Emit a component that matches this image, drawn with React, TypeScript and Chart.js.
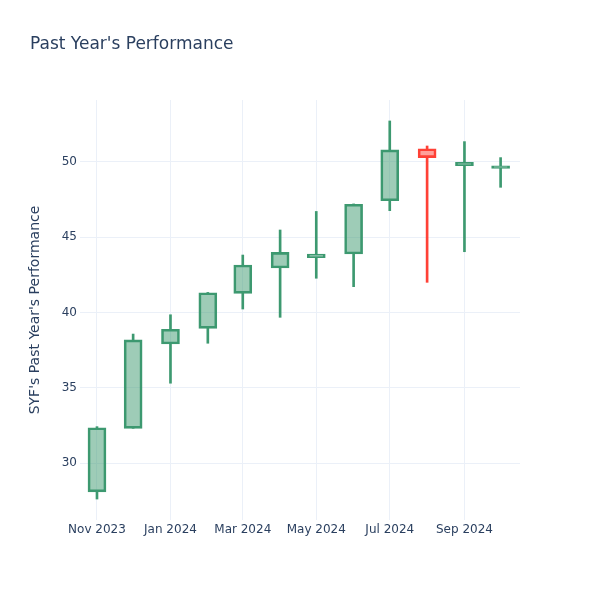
import React, { useEffect, useRef } from "react";
import { Chart, registerables } from "chart.js";

Chart.register(...registerables);

const chartTitle = "Past Year's Performance";
const yAxisTitle = "SYF's Past Year's Performance";

const months = [
  "2023-11-01", "2023-12-01", "2024-01-01", "2024-02-01", "2024-03-01", "2024-04-01",
  "2024-05-01", "2024-06-01", "2024-07-01", "2024-08-01", "2024-09-01", "2024-10-01",
];
const opens = [28.10, 32.32, 37.91, 38.95, 41.27, 42.95, 43.63, 43.88, 47.41, 50.86, 49.73, 49.56];
const highs = [32.43, 38.57, 39.85, 41.33, 43.81, 45.47, 46.70, 47.20, 52.70, 51.04, 51.33, 50.27];
const lows = [27.63, 32.32, 35.31, 37.96, 40.23, 39.68, 42.27, 41.71, 46.75, 42.00, 44.03, 48.30];
const closes = [32.36, 38.18, 38.89, 41.31, 43.15, 43.99, 43.88, 47.18, 50.78, 50.27, 49.96, 49.73];

const xTickDates = ["2023-11-01", "2024-01-01", "2024-03-01", "2024-05-01", "2024-07-01", "2024-09-01"];
const xTickLabels = ["Nov 2023", "Jan 2024", "Mar 2024", "May 2024", "Jul 2024", "Sep 2024"];
const yTicks = [30, 35, 40, 45, 50];

const X_MIN_DAYS = -14.1;
const X_MAX_DAYS = 351.1;
const Y_MIN = 26.24;
const Y_MAX = 54.09;

const INC = "#3D9970";
const INC_FILL = "rgba(61,153,112,0.5)";
const DEC = "#FF4136";
const DEC_FILL = "rgba(255,65,54,0.5)";
const TEXT = "#2a3f5f";
const GRID = "#EBF0F8";
const FONT = "'DejaVu Sans', Verdana, Arial, sans-serif";

const DAY = 86400000;
const base = Date.parse(months[0]);
const toDays = (d: string) => (Date.parse(d) - base) / DAY;

export default function App() {
  const ref = useRef<HTMLCanvasElement | null>(null);

  useEffect(() => {
    if (!ref.current) return;
    const xs = months.map(toDays);
    const up = opens.map((o, i) => closes[i] >= o);
    const lineCol = up.map((u) => (u ? INC : DEC));
    const fillCol = up.map((u) => (u ? INC_FILL : DEC_FILL));
    const tickDays = xTickDates.map(toDays);

    const lowerWick = xs.map((x, i) => ({ x, y: [lows[i], Math.min(opens[i], closes[i])] }));
    const upperWick = xs.map((x, i) => ({ x, y: [Math.max(opens[i], closes[i]), highs[i]] }));
    const bodies = xs.map((x, i) => ({ x, y: [opens[i], closes[i]] }));

    const chart = new Chart(ref.current, {
      type: "bar",
      data: {
        datasets: [
          {
            label: "lower",
            data: lowerWick as any,
            backgroundColor: lineCol,
            borderWidth: 0,
            barThickness: 2,
            grouped: false,
          } as any,
          {
            label: "upper",
            data: upperWick as any,
            backgroundColor: lineCol,
            borderWidth: 0,
            barThickness: 2,
            grouped: false,
          } as any,
          {
            label: "body",
            data: bodies as any,
            backgroundColor: fillCol,
            borderColor: lineCol,
            borderWidth: 2,
            borderSkipped: false,
            barThickness: 18,
            grouped: false,
          } as any,
        ],
      },
      options: {
        responsive: false,
        animation: false,
        layout: { padding: { left: 30, right: 80, top: 0, bottom: 0 } },
        plugins: {
          legend: { display: false },
          tooltip: { enabled: false },
          title: {
            display: true,
            text: chartTitle,
            align: "start",
            color: TEXT,
            font: { family: FONT, size: 17, weight: "normal" },
            padding: { top: 34, bottom: 45.6 },
          },
        },
        scales: {
          x: {
            type: "linear",
            min: X_MIN_DAYS,
            max: X_MAX_DAYS,
            offset: false,
            afterFit: (s: any) => {
              s.height = 80;
            },
            afterBuildTicks: (s: any) => {
              s.ticks = tickDays.map((v) => ({ value: v }));
            },
            grid: { color: GRID, offset: false, drawTicks: false, lineWidth: 1 },
            border: { display: false },
            ticks: {
              color: TEXT,
              font: { family: FONT, size: 12 },
              padding: 3,
              maxRotation: 0,
              autoSkip: false,
              callback: (v: any) => {
                const i = tickDays.indexOf(Number(v));
                return i >= 0 ? xTickLabels[i] : "";
              },
            },
          },
          y: {
            type: "linear",
            min: Y_MIN,
            max: Y_MAX,
            afterFit: (s: any) => {
              s.width = 50;
            },
            afterBuildTicks: (s: any) => {
              s.ticks = yTicks.map((v) => ({ value: v }));
            },
            grid: { color: GRID, drawTicks: false, lineWidth: 1 },
            border: { display: false },
            ticks: {
              color: TEXT,
              font: { family: FONT, size: 12 },
              padding: 3,
              callback: (v: any) => String(v),
            },
            title: {
              display: true,
              text: yAxisTitle,
              color: TEXT,
              font: { family: FONT, size: 14 },
              padding: { top: -3, bottom: 0 },
            },
          },
        },
      },
    });
    return () => chart.destroy();
  }, []);

  return (
    <div style={{ position: "absolute", left: 0, top: 0, width: 600, height: 600, background: "#fff" }}>
      <canvas ref={ref} width={600} height={600} />
    </div>
  );
}
